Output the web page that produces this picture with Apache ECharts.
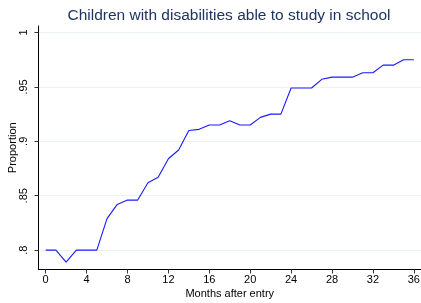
<!DOCTYPE html>
<html lang="en">
<head>
    <meta charset="UTF-8">
    <title>Children with disabilities</title>
    <script src="https://cdn.jsdelivr.net/npm/echarts@6/dist/echarts.min.js"></script>
    <style>
        html, body { margin: 0; padding: 0; background: #fff; }
    </style>
</head>
<body>
<div id="main" style="width: 421px;height:303px;"></div>
<script type="text/javascript">
    // months after entry and share able to study in school
    var months = [0,1,2,3,4,5,6,7,8,9,10,11,12,13,14,15,16,17,18,19,20,21,22,23,24,25,26,27,28,29,30,31,32,33,34,35,36];
    var proportion = [.800,.800,.789,.800,.800,.800,.829,.842,.846,.846,.862,.867,.884,.892,.910,.911,.915,.915,.919,.915,
        .915,.922,.925,.925,.949,.949,.949,.957,.959,.959,.959,.963,.963,.970,.970,.975,.975];
    var xTicks = [0,4,8,12,16,20,24,28,32,36];
    var yTicks = [.8,.85,.9,.95,1];
    var yTickLabels = ['.8','.85','.9','.95','1'];

    var points = [];
    for (var i = 0; i < months.length; i++) {
        points.push([months[i], proportion[i]]);
    }

    var myChart = echarts.init(document.getElementById('main'));
    var font = 'Liberation Sans, Arial, sans-serif';
    myChart.setOption({
        animation: false,
        backgroundColor: '#ffffff',
        title: {
            text: 'Children with disabilities able to study in school',
            left: 224, top: 3, textAlign: 'center',
            textStyle: { fontFamily: font, fontSize: 15.5, fontWeight: 'normal', color: '#1e3461' }
        },
        grid: { left: 38.5, right: 0, top: 26, bottom: 33.5, containLabel: false, outerBoundsMode: 'none' },
        xAxis: {
            type: 'value',
            min: -0.7, max: 36.7,
            name: 'Months after entry',
            nameLocation: 'middle', nameGap: 19, nameMoveOverlap: false,
            nameTextStyle: { fontFamily: font, fontSize: 11, color: '#000' },
            axisLine: { onZero: false, lineStyle: { color: '#000', width: 1 } },
            axisTick: { customValues: xTicks, length: 4, lineStyle: { color: '#333' } },
            axisLabel: { customValues: xTicks, margin: 5, fontFamily: font, fontSize: 11, color: '#000' },
            splitLine: { show: false }
        },
        yAxis: {
            type: 'value',
            min: 0.7822, max: 1.006,
            name: 'Proportion',
            nameLocation: 'middle', nameGap: 20, nameRotate: 90, nameMoveOverlap: false,
            nameTextStyle: { fontFamily: font, fontSize: 11, color: '#000' },
            axisLine: { show: true, onZero: false, lineStyle: { color: '#000', width: 1 } },
            axisTick: { show: true, customValues: yTicks, length: 4, lineStyle: { color: '#333' } },
            axisLabel: {
                customValues: yTicks, rotate: 90, margin: 9,
                fontFamily: font, fontSize: 11, color: '#000',
                formatter: function (v) {
                    var k = yTicks.indexOf(Math.round(v * 100) / 100);
                    return k >= 0 ? yTickLabels[k] : '';
                }
            },
            splitLine: { show: true, lineStyle: { color: '#eaf2f3', width: 1 } }
        },
        series: [{
            type: 'line',
            data: points,
            showSymbol: false,
            lineStyle: { color: '#1a1aff', width: 1.1 }
        }]
    });
</script>
</body>
</html>
